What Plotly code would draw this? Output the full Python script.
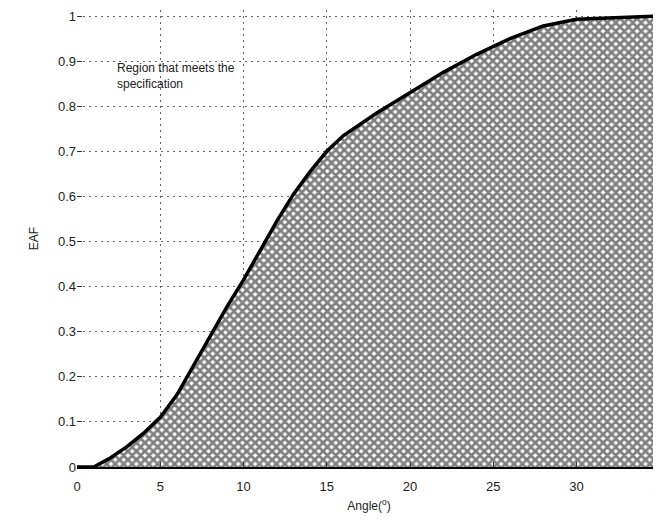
import plotly.graph_objects as go

angle = [0, 1, 2, 3, 4, 5, 6, 7, 8, 9, 10, 11, 12, 13, 14, 15, 16, 18, 20, 22, 24, 26, 28, 30, 35]
eaf = [0, 0, 0.02, 0.045, 0.075, 0.11, 0.16, 0.225, 0.29, 0.355, 0.415, 0.48, 0.545, 0.605, 0.655,
       0.70, 0.735, 0.785, 0.83, 0.875, 0.915, 0.95, 0.978, 0.993, 1.0]
y_ticks = [0, 0.1, 0.2, 0.3, 0.4, 0.5, 0.6, 0.7, 0.8, 0.9, 1]
y_labels = ["0", "0.1", "0.2", "0.3", "0.4", "0.5", "0.6", "0.7", "0.8", "0.9", "1"]
x_ticks = [0, 5, 10, 15, 20, 25, 30, 35]

fig = go.Figure()
fig.add_trace(go.Scatter(
    x=angle, y=eaf, mode="lines", fill="tozeroy",
    line=dict(color="black", width=3.5),
    fillcolor="white",
    fillpattern=dict(shape="x", fgcolor="#000000", bgcolor="white", size=6, solidity=0.7),
    cliponaxis=False, showlegend=False,
))

font = "Liberation Sans, Arial, sans-serif"
# page body has an 8px default margin, so the figure is kept inside the window
fig.update_layout(
    width=653, height=505,
    margin=dict(l=69, r=0, t=2, b=46),
    paper_bgcolor="white", plot_bgcolor="white",
    font=dict(family=font, size=13, color="#222"),
    xaxis=dict(range=[0, 35.07], tickvals=x_ticks, showgrid=True, gridcolor="#666",
               griddash="2px,4px", gridwidth=1, zeroline=False, showline=True, linecolor="black",
               linewidth=2, ticks="inside", ticklen=5, tickcolor="#333",
               ticklabelstandoff=6, ticklabeloverflow="allow", automargin=False,
               title=dict(text="Angle(<sup>o</sup>)", standoff=12, font=dict(size=12))),
    yaxis=dict(range=[0, 1.0133], tickvals=y_ticks, ticktext=y_labels, showgrid=True,
               gridcolor="#666", griddash="2px,4px", gridwidth=1, zeroline=False, showline=False,
               ticks="inside", ticklen=5, tickcolor="#333",
               title=dict(text="EAF", standoff=16, font=dict(size=12))),
    annotations=[dict(x=(115 - 77) / 584, y=(467 - 76) / 457, xref="paper", yref="paper",
                      text="Region that meets the<br>specification",
                      showarrow=False, xanchor="left", yanchor="middle", align="left",
                      font=dict(size=12, color="#222"))],
)
fig.write_html("out.html")
